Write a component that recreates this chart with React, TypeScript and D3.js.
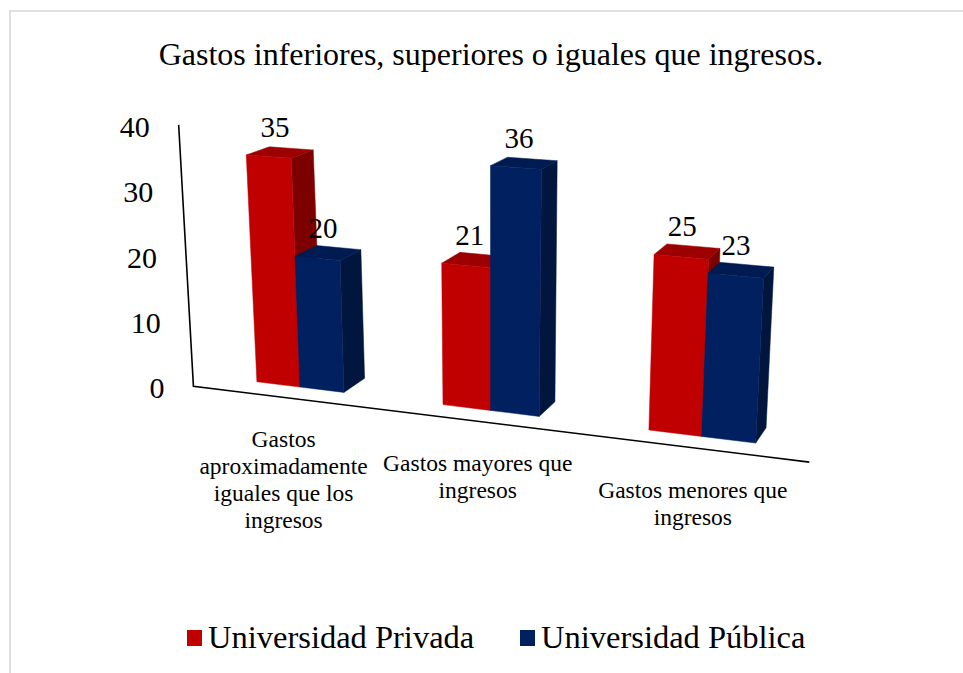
import React from "react";
import * as d3 from "d3";

const categories = ["Gastos aproximadamente iguales que los ingresos", "Gastos mayores que ingresos", "Gastos menores que ingresos"];
const categoryLines = [["Gastos", "aproximadamente", "iguales que los", "ingresos"], ["Gastos mayores que", "ingresos"], ["Gastos menores que", "ingresos"]];
const seriesNames = ["Universidad Privada", "Universidad Pública"];
const privada = [35, 21, 25];
const publica = [20, 36, 23];
const yTicks = [0, 10, 20, 30, 40];
const title = "Gastos inferiores, superiores o iguales que ingresos.";

const W = 963, H = 673;
const FONT = "'Liberation Serif', 'Times New Roman', serif";

const colors = [
  { front: "#C00000", top: "#9C0000", side: "#7C0000" },
  { front: "#002060", top: "#001B52", side: "#00163E" },
];

// perspective helpers (layout)
const x0 = 211.4, A = 172.8, cK = -0.0475;
const baseY = d3.scaleLinear().domain([256.7, 755]).range([381.7, 443]);
const unitH = d3.scaleLinear().domain([256.7, 755]).range([6.48, 7.163]);
const slant = d3.scaleLinear().domain([490, 1490]).range([0, 1.3]);
const VP: [number, number] = [1170, -170];
const depthK = 0.025;
const floorZ = -0.75;

const xBand = d3.scaleBand<string>().domain(categories).range([0, 3]).paddingInner(0).paddingOuter(0);
const sBand = d3.scaleBand<string>().domain(seriesNames).range([0.26, 0.74]).padding(0);
const vScale = d3.scaleLinear().domain([0, 40]).range([0, 40]);

function project(X: number, v: number, Z: number): [number, number] {
  const bx = x0 + (A * X) / (1 + cK * X);
  const by = baseY(bx);
  const val = vScale(v);
  const px = bx + val * slant(bx);
  const py = by - val * unitH(bx);
  const lam = depthK * Z;
  return [px + lam * (VP[0] - px), py + lam * (VP[1] - py)];
}

const poly = (pts: [number, number][], close = true) => {
  const line = d3.line();
  return line(pts) + (close ? "Z" : "");
};

export default function App() {
  const data = [privada, publica];
  const bars: any[] = [];
  categories.forEach((cat, i) => {
    seriesNames.forEach((s, j) => {
      const v = data[j][i];
      const X0 = (xBand(cat) as number) + (sBand(s) as number);
      const X1 = X0 + sBand.bandwidth();
      const front = [project(X0, 0, 0), project(X1, 0, 0), project(X1, v, 0), project(X0, v, 0)] as [number, number][];
      const top = [project(X0, v, 0), project(X1, v, 0), project(X1, v, 1), project(X0, v, 1)] as [number, number][];
      const side = [project(X1, 0, 0), project(X1, 0, 1), project(X1, v, 1), project(X1, v, 0)] as [number, number][];
      const c = project((X0 + X1) / 2, v, 0.5);
      bars.push({ key: `${i}-${j}`, front, top, side, col: colors[j], v, lx: c[0] - 5, ly: c[1] - 15 });
    });
  });

  const floorA = project(0, 0, floorZ);
  const floorB = project(3, 0, floorZ);
  const axisTop = project(0, 40, floorZ);

  return (
    <svg width={W} height={H} style={{ position: "absolute", left: 0, top: 0, background: "#fff" }} fontFamily={FONT}>
      <rect x={0} y={0} width={W} height={H} fill="#fff" />
      <rect x={10} y={11} width={W + 20} height={H + 20} fill="none" stroke="#D9D9D9" strokeWidth={1.6} />
      <text x={491} y={65} textAnchor="middle" fontSize={32} fill="#000">{title}</text>

      {/* axes */}
      <path d={poly([axisTop, floorA, floorB], false)} fill="none" stroke="#000" strokeWidth={1.6} />

      {yTicks.map((t) => {
        const p = project(0, t, floorZ);
        return (
          <text key={t} x={p[0] - 29} y={p[1] + 12} textAnchor="end" fontSize={30} fill="#000">{t}</text>
        );
      })}

      {bars.map((b) => (
        <g key={b.key}>
          <path d={poly(b.side)} fill={b.col.side} stroke={b.col.side} strokeWidth={0.5} />
          <path d={poly(b.top)} fill={b.col.top} stroke={b.col.top} strokeWidth={0.5} />
          <path d={poly(b.front)} fill={b.col.front} stroke={b.col.front} strokeWidth={0.5} />
        </g>
      ))}
      {bars.map((b) => (
        <text key={"l" + b.key} x={b.lx} y={b.ly} textAnchor="middle" fontSize={29} fill="#000">{b.v}</text>
      ))}

      {categories.map((cat, i) => {
        const p = project((xBand(cat) as number) + xBand.bandwidth() / 2, 0, floorZ);
        return (
          <text key={cat} textAnchor="middle" fontSize={23.5} fill="#000">
            {categoryLines[i].map((ln, k) => (
              <tspan key={k} x={p[0]} y={p[1] + 50 + k * 27}>{ln}</tspan>
            ))}
          </text>
        );
      })}

      {/* legend */}
      {seriesNames.map((s, j) => {
        const lx = j === 0 ? 187 : 520;
        return (
          <g key={s}>
            <rect x={lx} y={630} width={15} height={16} fill={colors[j].front} />
            <text x={lx + 21} y={648} fontSize={32.5} fill="#000">{s}</text>
          </g>
        );
      })}
    </svg>
  );
}
